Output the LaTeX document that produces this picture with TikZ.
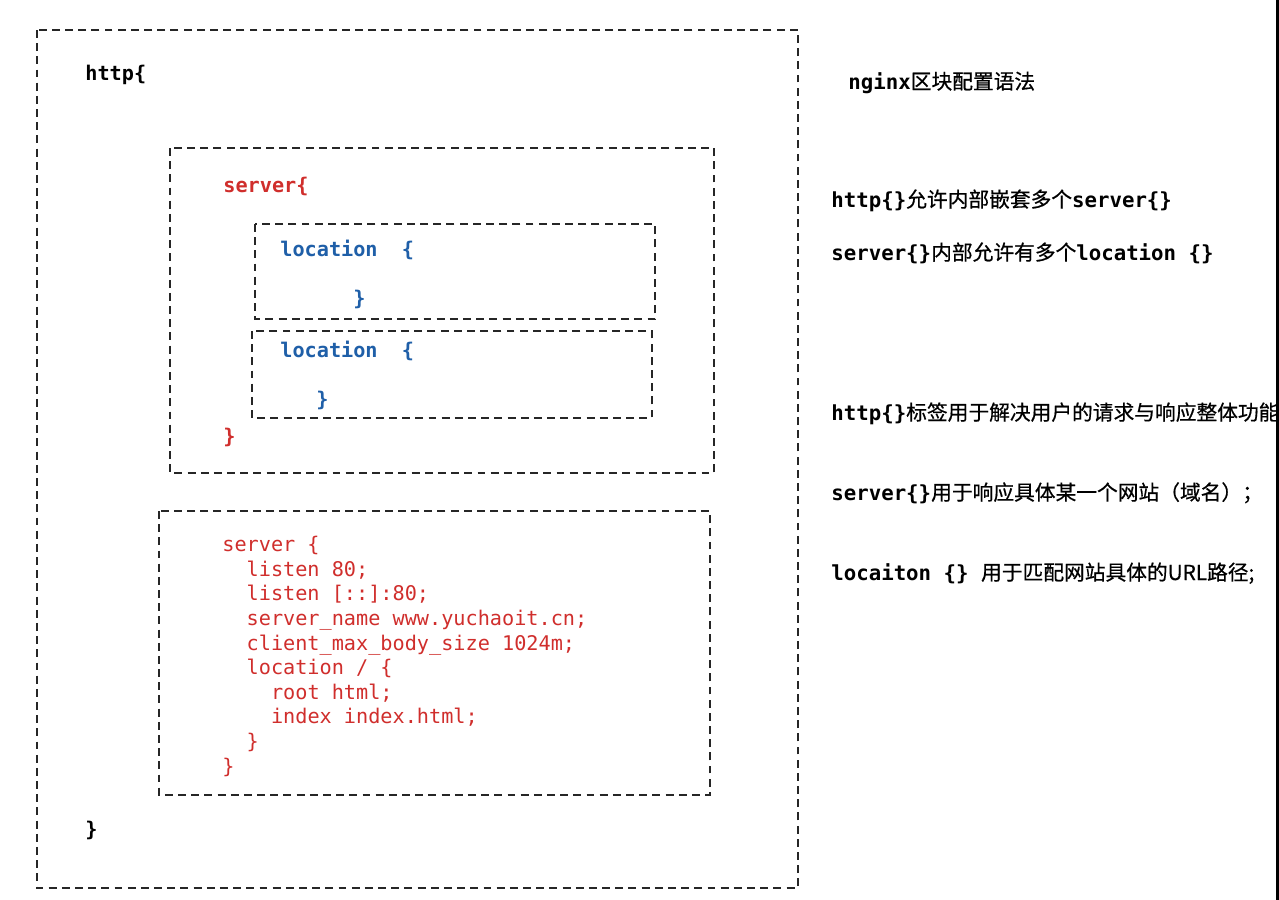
\documentclass[tikz,border=0pt]{standalone}
\usepackage{fontspec}
\setmonofont{DejaVu Sans Mono}
\newfontfamily\cjk[FakeBold=0.6]{Noto Sans CJK SC}
\definecolor{cfgred}{RGB}{208,46,44}
\definecolor{cfgblue}{RGB}{31,95,168}
\newcommand{\zh}[1]{{\cjk\mdseries #1}}

\begin{document}
\begin{tikzpicture}[
  x=0.02cm, y=-0.02cm,
  font=\fontsize{11.5}{14}\selectfont\ttfamily,
  frame/.style={draw=black!85, dash pattern=on 4.5pt off 3pt, line width=0.75pt},
  kw/.style={anchor=base west, inner sep=0pt,
    font=\fontsize{11.5}{14}\selectfont\ttfamily\bfseries},
  srv/.style={kw, text=cfgred},
  loc/.style={kw, text=cfgblue},
  code/.style={anchor=north west, inner sep=0pt, align=left, text=cfgred,
    font=\fontsize{11.5}{14}\selectfont\ttfamily},
  note/.style={kw, text=black,
    font=\fontsize{11.8}{14}\selectfont\ttfamily\bfseries}]
\useasboundingbox[fill=white] (0,0) rectangle (1279,900);

% boxes
\draw[frame] (37,30) rectangle (798,888);
\draw[frame] (170,148) rectangle (714,473);
\draw[frame] (255,224) rectangle (655,319);
\draw[frame] (252,331) rectangle (652,418);
\draw[frame] (159,511) rectangle (710,795);

% http block
\node[kw] (httpopen) at (85,80) {http\{};
\node[kw] (httpclose) at (85,836) {\}};

% first server
\node[srv] (srvopen) at (223,192) {server\{};
\node[loc] (locaopen) at (280,256) {location\ \ \{};
\node[loc] (locaclose) at (353,305) {\}};
\node[loc] (locbopen) at (280,357) {location\ \ \{};
\node[loc] (locbclose) at (316,406) {\}};
\node[srv] (srvclose) at (223,443) {\}};

% second server
\node[code] (srvcode) at (222,536) {server \{\\
\ \ listen 80;\\
\ \ listen [::]:80;\\
\ \ server\_name www.yuchaoit.cn;\\
\ \ client\_max\_body\_size 1024m;\\
\ \ location / \{\\
\ \ \ \ root html;\\
\ \ \ \ index index.html;\\
\ \ \}\\
\}};

% notes
\node[note] (title) at (848,89) {nginx\zh{区块配置语法}};
\node[note] (notea) at (831,207) {http\{\}\zh{允许内部嵌套多个}server\{\}};
\node[note] (noteb) at (831,260) {server\{\}\zh{内部允许有多个}location \{\}};
\node[note] (notec) at (831,420) {http\{\}\zh{标签用于解决用户的请求与响应整体功能}};
\node[note] (noted) at (831,500) {server\{\}\zh{用于响应具体某一个网站（域名）；}};
\node[note] (notee) at (831,580) {locaiton \{\} \zh{用于匹配网站具体的URL路径;}};

\fill[black] (1276,0) rectangle (1279,900);
\end{tikzpicture}
\end{document}
